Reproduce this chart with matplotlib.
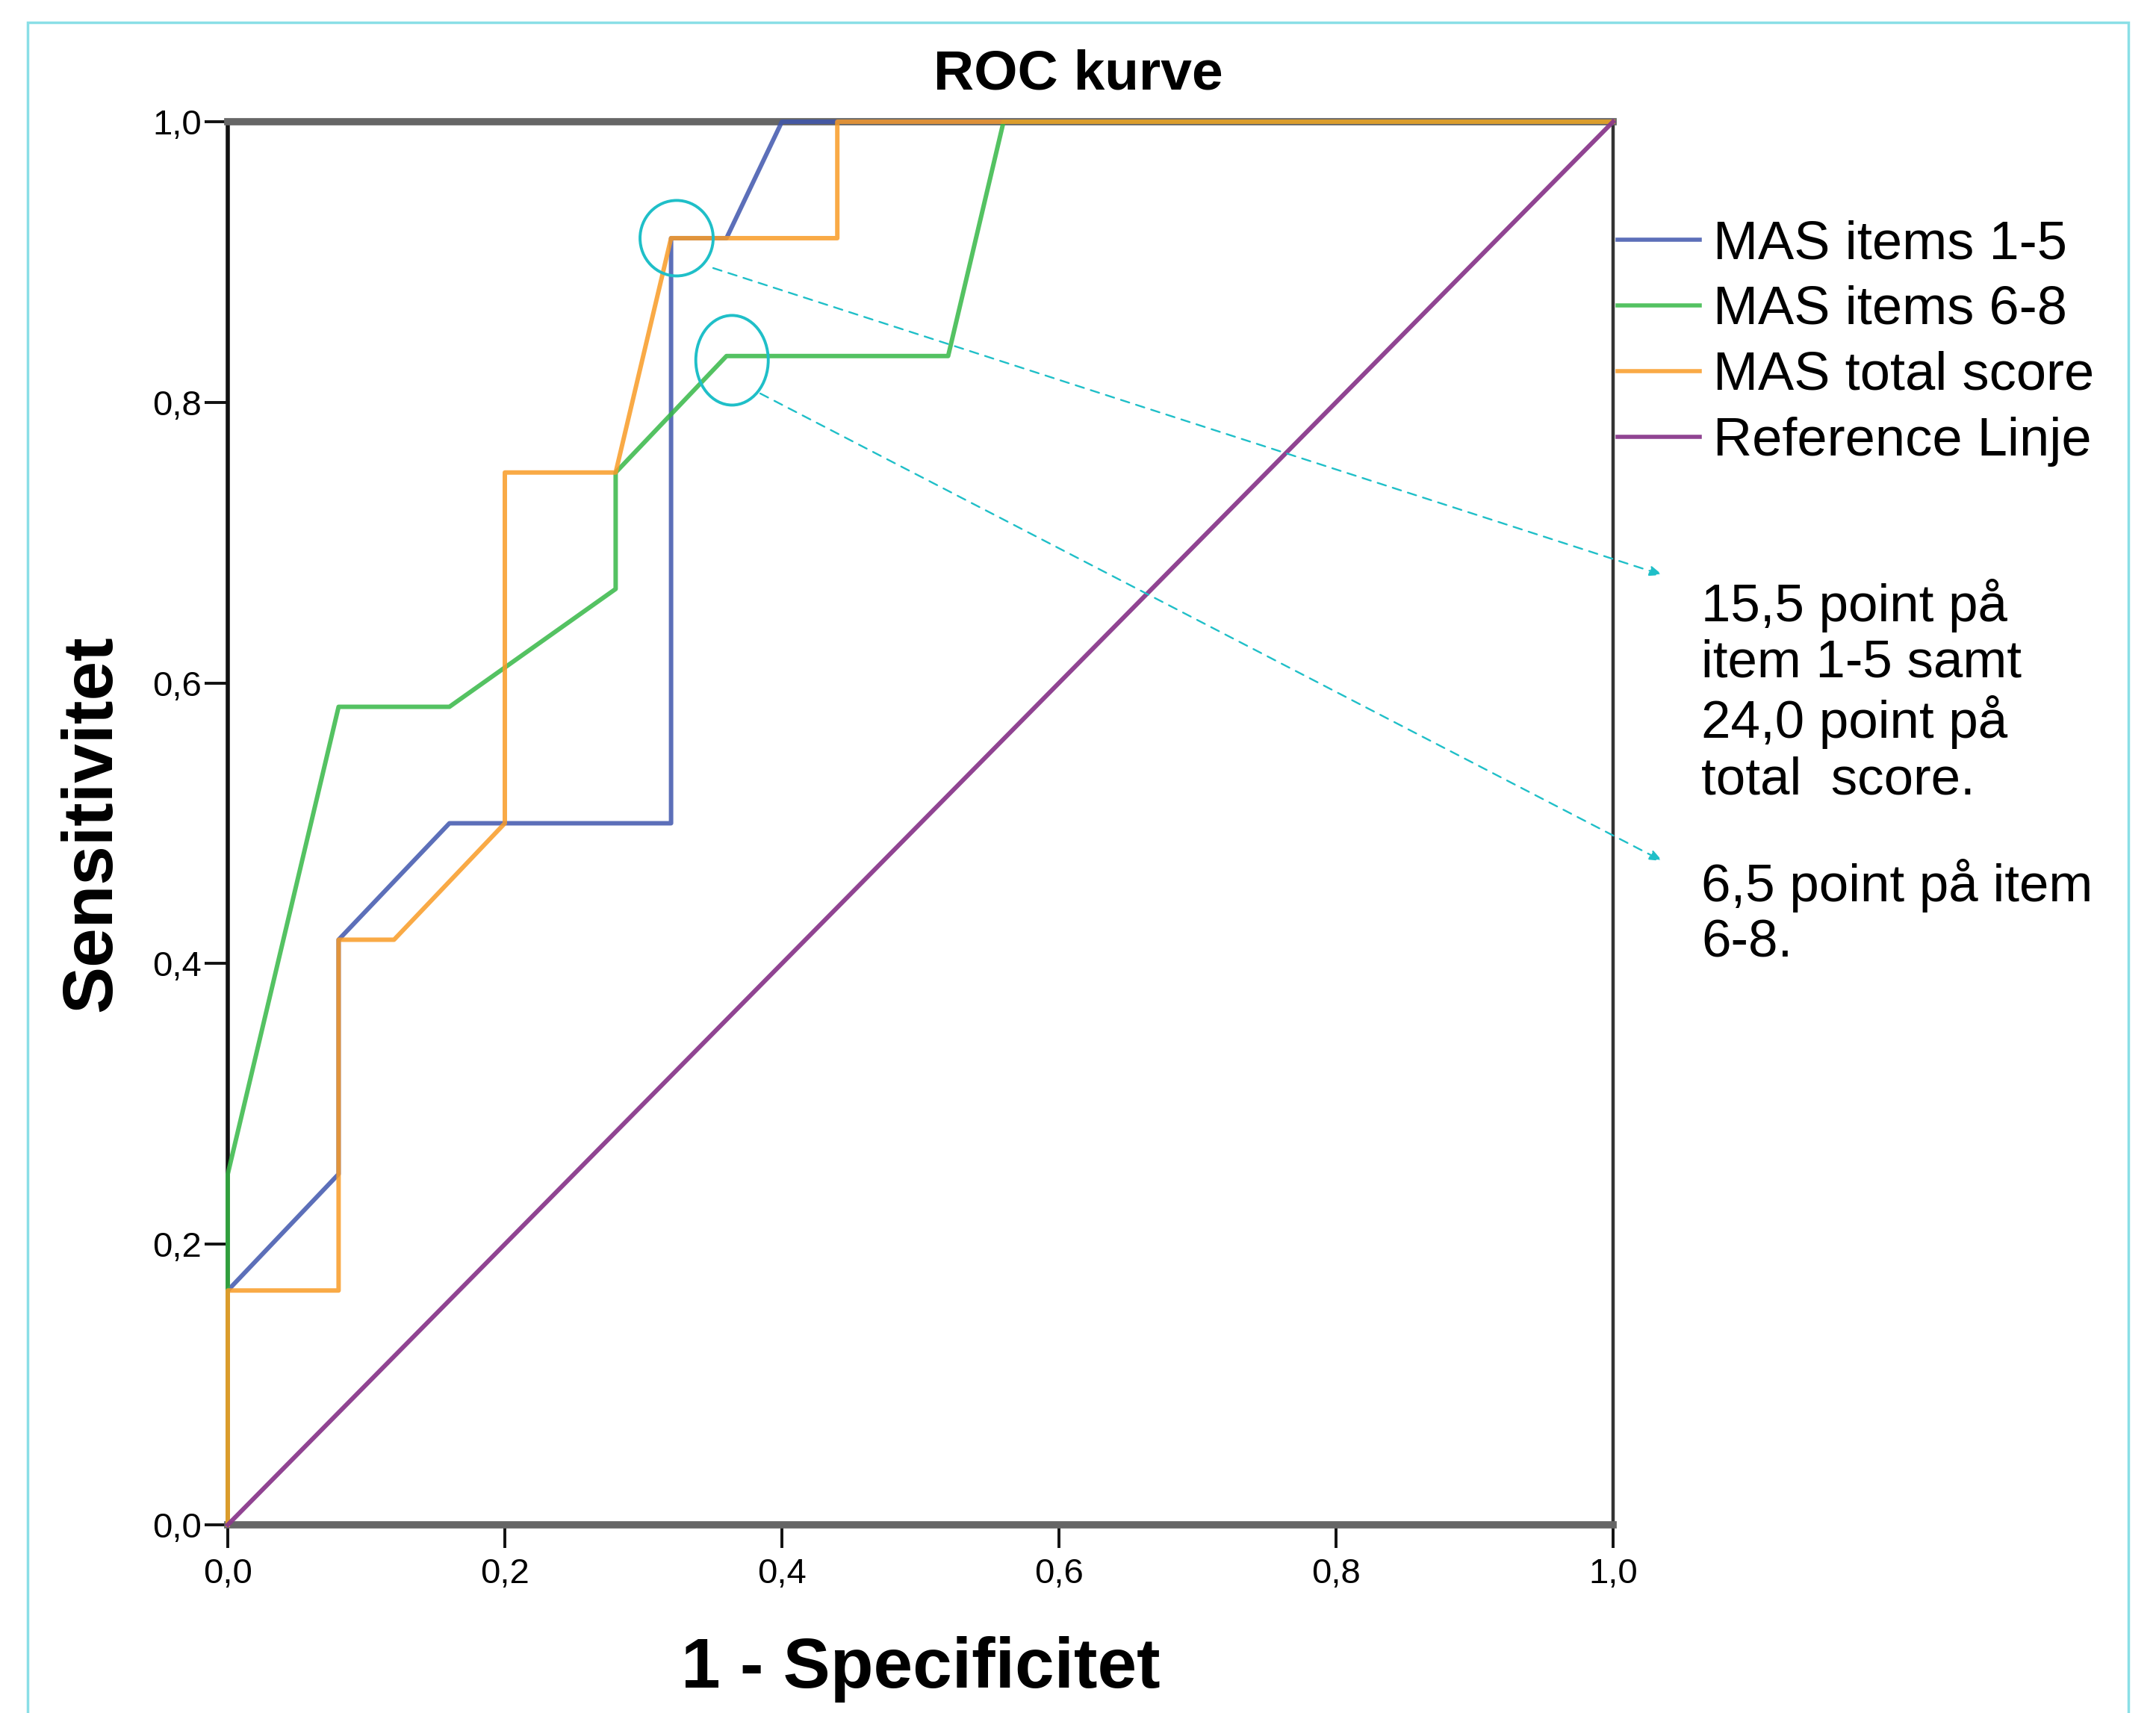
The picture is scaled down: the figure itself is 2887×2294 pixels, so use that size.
import matplotlib
matplotlib.use("Agg")
import matplotlib.pyplot as plt
from matplotlib.patches import Ellipse, Rectangle

plt.rcParams['font.family'] = ['Liberation Sans', 'DejaVu Sans']

# ---- data ----
series_names = ["MAS items 1-5", "MAS items 6-8", "MAS total score", "Reference Linje"]

blue_x = [0, 0, 0.08, 0.08, 0.16, 0.32, 0.32, 0.36, 0.40, 1.0]
blue_y = [0, 0.167, 0.25, 0.417, 0.5, 0.5, 0.917, 0.917, 1.0, 1.0]

green_x = [0, 0, 0.08, 0.16, 0.28, 0.28, 0.36, 0.52, 0.56, 1.0]
green_y = [0, 0.25, 0.583, 0.583, 0.667, 0.75, 0.833, 0.833, 1.0, 1.0]

orange_x = [0, 0, 0.08, 0.08, 0.12, 0.20, 0.20, 0.28, 0.32, 0.44, 0.44, 1.0]
orange_y = [0, 0.167, 0.167, 0.417, 0.417, 0.5, 0.75, 0.75, 0.917, 0.917, 1.0, 1.0]

ref_x = [0, 1.0]
ref_y = [0, 1.0]

tick_values = [0.0, 0.2, 0.4, 0.6, 0.8, 1.0]
tick_labels = ["0,0", "0,2", "0,4", "0,6", "0,8", "1,0"]

title = "ROC kurve"
xlabel = "1 - Specificitet"
ylabel = "Sensitivitet"
note1 = "15,5 point på\nitem 1-5 samt\n24,0 point på\ntotal  score."
note2 = "6,5 point på item\n6-8."

# ---- figure ----
W, H, DPI = 2887, 2294, 100
fig = plt.figure(figsize=(W / DPI, H / DPI), dpi=DPI)
fig.patch.set_facecolor("white")

# cyan outer frame
frame = Rectangle((37 / W, -0.05), (2850 - 37) / W, 1.05 - 30 / H,
                  transform=fig.transFigure, fill=False,
                  edgecolor="#8adfe6", linewidth=2.5)
fig.add_artist(frame)

ax = fig.add_axes([305 / W, 1 - 2042 / H, (2160 - 305) / W, (2042 - 163) / H])
ax.set_xlim(0, 1)
ax.set_ylim(0, 1)

colors = ["#3f56ad", "#36b846", "#f99b26", "#8a3a8c"]
lw = 4.3
ax.plot(blue_x, blue_y, color=colors[0], lw=lw, alpha=0.85, zorder=3,
        clip_on=False, label=series_names[0])
ax.plot(green_x, green_y, color=colors[1], lw=lw, alpha=0.85, zorder=3,
        clip_on=False, label=series_names[1])
ax.plot(orange_x, orange_y, color=colors[2], lw=lw, alpha=0.85, zorder=3,
        clip_on=False, label=series_names[2])
ax.plot(ref_x, ref_y, color=colors[3], lw=lw, alpha=0.95, zorder=3,
        clip_on=False, label=series_names[3])

# spines
for s in ["top", "bottom"]:
    ax.spines[s].set_linewidth(7)
    ax.spines[s].set_color("#666666")
ax.spines["left"].set_linewidth(4)
ax.spines["left"].set_color("#111111")
ax.spines["right"].set_linewidth(3.2)
ax.spines["right"].set_color("#333333")

ax.set_xticks(tick_values)
ax.set_xticklabels(tick_labels)
ax.set_yticks(tick_values)
ax.set_yticklabels(tick_labels)
ax.tick_params(axis="both", direction="out", length=22, width=2.8,
               color="#111111", labelsize=34)
ax.tick_params(axis="x", pad=10)
ax.tick_params(axis="y", pad=3)

# title and axis labels
fig.text(0.5, 1 - 120 / H, title, ha="center", va="baseline",
         fontsize=54, fontweight="bold")
ax.set_xlabel(xlabel, fontsize=68, fontweight="bold")
ax.xaxis.label.set_va("baseline")
ax.xaxis.set_label_coords(0.5, (2042 - 2260) / (2042 - 163))
ax.set_ylabel(ylabel, fontsize=68, fontweight="bold")
ax.yaxis.label.set_va("baseline")
ax.yaxis.set_label_coords((148 - 305) / (2160 - 305), 0.5)

# legend
leg = ax.legend(loc="upper left", bbox_to_anchor=(2166 / W, 1 - 294 / H),
                bbox_transform=fig.transFigure, frameon=False, fontsize=52,
                handlelength=1.52, handletextpad=0.25, labelspacing=0.29,
                borderpad=0, borderaxespad=0)
for line in leg.get_lines():
    line.set_linewidth(4.0)

# highlighted cut-off points
cyan = "#1fbfc8"
ax.add_patch(Ellipse((0.324, 0.917), 0.0528, 0.0538, fill=False,
                     edgecolor=cyan, lw=2.8, zorder=4, clip_on=False))
ax.add_patch(Ellipse((0.364, 0.830), 0.0523, 0.0639, fill=False,
                     edgecolor=cyan, lw=2.8, zorder=4, clip_on=False))

arrowprops = dict(arrowstyle="-|>,head_length=1.0,head_width=0.4",
                  color=cyan, lw=1.7, linestyle=(0, (5, 4)),
                  shrinkA=0, shrinkB=0)
ax.annotate("", xy=(1.0356, 0.677), xytext=(0.3504, 0.8957),
            xycoords="data", textcoords="data", arrowprops=arrowprops,
            annotation_clip=False, zorder=5)
ax.annotate("", xy=(1.0356, 0.4731), xytext=(0.3844, 0.8063),
            xycoords="data", textcoords="data", arrowprops=arrowprops,
            annotation_clip=False, zorder=5)

fig.text(2278 / W, 1 - 775 / H, note1, ha="left", va="top",
         fontsize=51, linespacing=1.17)
fig.text(2278 / W, 1 - 1150 / H, note2, ha="left", va="top",
         fontsize=51, linespacing=1.17)

fig.savefig("out.png", dpi=DPI, facecolor="white")
